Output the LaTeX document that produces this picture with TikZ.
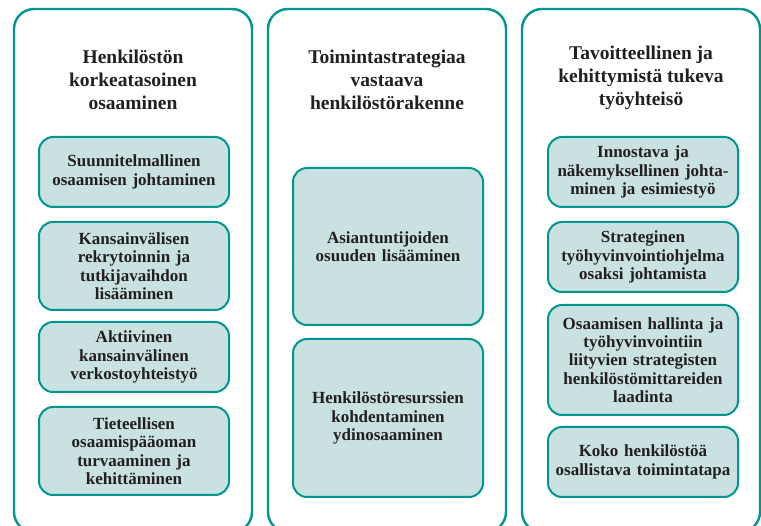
\documentclass[tikz,border=0pt]{standalone}
\usepackage{fontspec}
\setmainfont{Liberation Serif}
\begin{document}
\begin{tikzpicture}[x=1pt,y=-1pt,
  col/.style={draw=tealc, line width=2.4pt, rounded corners=20pt, fill=white, minimum width=238pt, inner sep=0pt},
  itm/.style={draw=tealc, line width=2pt, rounded corners=14pt, fill=fillc, minimum width=190pt, inner sep=0pt, text width=188pt, align=center, text=txtc, font=\bfseries\fontsize{17}{18.4}\selectfont},
  ttl/.style={text=txtc, align=center, font=\bfseries\fontsize{19.5}{23.2}\selectfont}]
\definecolor{tealc}{HTML}{00968F}
\definecolor{fillc}{HTML}{C9E1E0}
\definecolor{txtc}{HTML}{231F20}
\useasboundingbox (0,0) rectangle (761,526);
\clip (0,0) rectangle (761,526);
\node[col, minimum height=523pt] (c1) at (133,270.5) {};
\node[col, minimum height=523pt] (c2) at (387,270.5) {};
\node[col, minimum height=523pt] (c3) at (641,270.5) {};
\node[ttl] (t1) at (133,80) {Henkilöstön\\korkeatasoinen\\osaaminen};
\node[ttl] (t2) at (387,80) {Toimintastrategiaa\\vastaava\\henkilöstörakenne};
\node[ttl] (t3) at (641,78) {Tavoitteellinen ja\\kehittymistä tukeva\\työyhteisö};
\node[itm, minimum height=70pt] (a1) at (134,172) {Suunnitelmallinen\\osaamisen johtaminen};
\node[itm, minimum height=88pt] (a2) at (134,266) {Kansainvälisen\\rekrytoinnin ja\\tutkijavaihdon\\lisääminen};
\node[itm, minimum height=70pt] (a3) at (134,357) {Aktiivinen\\kansainvälinen\\verkostoyhteistyö};
\node[itm, minimum height=88pt] (a4) at (134,451) {Tieteellisen\\osaamispääoman\\turvaaminen ja\\kehittäminen};
\node[itm, minimum height=157pt] (m1) at (388,246.5) {Asiantuntijoiden\\osuuden lisääminen};
\node[itm, minimum height=158pt] (m2) at (388,418) {Henkilöstöresurssien\\kohdentaminen\\ydinosaaminen};
\node[itm, minimum height=70pt] (r1) at (643,172) {Innostava ja\\näkemyksellinen johta-\\minen ja esimiestyö};
\node[itm, minimum height=70pt] (r2) at (643,257) {Strateginen\\työhyvinvointiohjelma\\osaksi johtamista};
\node[itm, minimum height=110pt] (r3) at (643,360) {Osaamisen hallinta ja\\työhyvinvointiin\\liityvien strategisten\\henkilöstömittareiden\\laadinta};
\node[itm, minimum height=70pt] (r4) at (643,462) {Koko henkilöstöä\\osallistava toimintatapa};
\end{tikzpicture}
\end{document}
